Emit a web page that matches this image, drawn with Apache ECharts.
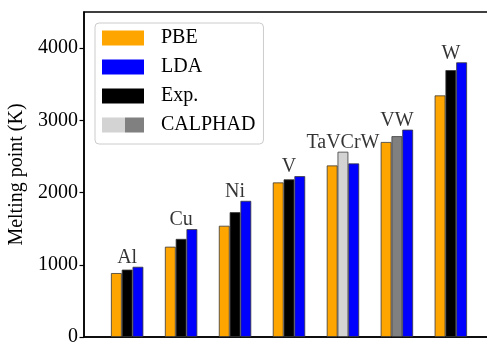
<!DOCTYPE html>
<html>
<head>
<meta charset="utf-8">
<script src="https://cdn.jsdelivr.net/npm/echarts@6/dist/echarts.min.js"></script>
<style>
  html, body { margin: 0; padding: 0; background: #ffffff; }
  #chart { width: 487px; height: 343px; }
</style>
</head>
<body>
<div id="chart"></div>
<script>
// Melting points (K) per system
const categories = ['Al', 'Cu', 'Ni', 'V', 'TaVCrW', 'VW', 'W'];
const pbe     = [885, 1250, 1540, 2140, 2375, 2700, 3345];
const lda     = [972, 1494, 1885, 2227, 2403, 2871, 3803];
const expt    = [933, 1358, 1728, 2183, null, null, 3695];
const calphad = [null, null, null, null, 2565, 2780, null];
const yTicks  = [0, 1000, 2000, 3000, 4000];

const FONT = '"Liberation Serif", "Times New Roman", serif';
const SHIFT = 0.2;                 // side bars sit this far from the group centre (axis units)
const CALPHAD_SHADES = ['#d3d3d3', '#808080'];

// turn a value list into [x, y] bar items, skipping empty slots
function place(values, shift, shades) {
  const out = [];
  let k = 0;
  values.forEach((v, i) => {
    if (v == null) return;
    const item = { value: [i + shift, v] };
    if (shades) item.itemStyle = { color: shades[k++ % shades.length] };
    out.push(item);
  });
  return out;
}

// group name sits above the tallest bar of the group
const groupTops = categories.map((name, i) => ({
  value: [i, Math.max(...[pbe[i], lda[i], expt[i], calphad[i]].filter(v => v != null))],
  name: name
}));

const barCommon = {
  type: 'bar',
  barWidth: 10.8,
  barGap: '-100%',
  itemStyle: { borderColor: '#3a3a3a', borderWidth: 0.8 },
  emphasis: { disabled: true }
};

const chart = echarts.init(document.getElementById('chart'), null, { renderer: 'canvas' });

chart.setOption({
  animation: false,
  backgroundColor: '#ffffff',
  textStyle: { fontFamily: FONT },
  grid: {
    left: 84, top: 12, width: 410, height: 325,
    outerBoundsMode: 'none',
    containLabel: false,
    show: true, borderColor: '#000', borderWidth: 1.5, backgroundColor: 'transparent'
  },
  legend: {
    data: [
      { name: 'PBE' },
      { name: 'LDA' },
      { name: 'Exp.' },
      {
        name: 'CALPHAD',
        itemStyle: {
          color: {
            type: 'linear', x: 0, y: 0, x2: 1, y2: 0,
            colorStops: [
              { offset: 0, color: CALPHAD_SHADES[0] },
              { offset: 0.54, color: CALPHAD_SHADES[0] },
              { offset: 0.54, color: CALPHAD_SHADES[1] },
              { offset: 1, color: CALPHAD_SHADES[1] }
            ]
          }
        }
      }
    ],
    orient: 'vertical',
    left: 95, top: 23,
    icon: 'rect',
    itemWidth: 42, itemHeight: 15, itemGap: 9,
    padding: [5, 8, 9, 7],
    backgroundColor: 'rgba(255,255,255,0.8)',
    borderColor: '#cccccc', borderWidth: 1, borderRadius: 4,
    selectedMode: false,
    itemStyle: { borderWidth: 0 },
    textStyle: { fontFamily: FONT, fontSize: 20, color: '#000', lineHeight: 20, padding: [0, 0, 0, 12] }
  },
  xAxis: {
    type: 'value',
    min: -0.8, max: 6.8,
    axisLine: { show: true, onZero: false, lineStyle: { color: '#000', width: 1.5 } },
    axisTick: { show: false },
    axisLabel: { show: false },
    splitLine: { show: false }
  },
  yAxis: {
    type: 'value',
    min: 0, max: 4500,
    name: 'Melting point (K)',
    nameLocation: 'middle',
    nameGap: 48,
    nameTextStyle: { fontFamily: FONT, fontSize: 20, color: '#000' },
    axisLine: { show: true, onZero: false, lineStyle: { color: '#000', width: 1.5 } },
    axisTick: { show: true, inside: false, length: 4.5, customValues: yTicks, lineStyle: { color: '#000', width: 1.2 } },
    axisLabel: {
      show: true, margin: 6, customValues: yTicks,
      formatter: v => String(v),
      fontFamily: FONT, fontSize: 20, color: '#000'
    },
    splitLine: { show: false }
  },
  series: [
    Object.assign({}, barCommon, { name: 'PBE', color: '#ffa500', data: place(pbe, -SHIFT) }),
    Object.assign({}, barCommon, { name: 'Exp.', color: '#000000', data: place(expt, 0) }),
    Object.assign({}, barCommon, { name: 'CALPHAD', color: CALPHAD_SHADES[0], data: place(calphad, 0, CALPHAD_SHADES) }),
    Object.assign({}, barCommon, { name: 'LDA', color: '#0000ff', data: place(lda, SHIFT) }),
    {
      type: 'scatter',
      name: 'groups',
      symbolSize: 0,
      silent: true,
      data: groupTops,
      label: {
        show: true, position: 'top', distance: -1,
        formatter: p => p.name,
        fontFamily: FONT, fontSize: 20, color: '#000'
      },
      z: 5
    }
  ]
});
</script>
</body>
</html>
